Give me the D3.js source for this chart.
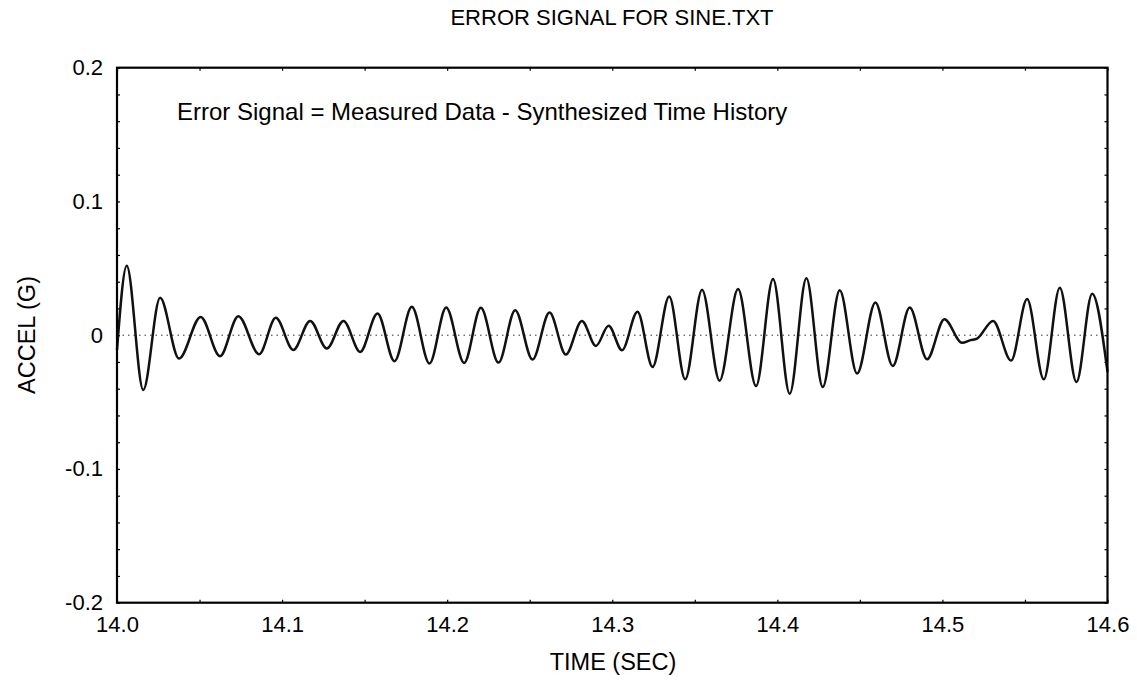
<!DOCTYPE html>
<html>
<head>
<meta charset="utf-8">
<script src="https://cdn.jsdelivr.net/npm/d3@7"></script>
<style>
  body { margin: 0; background: #fff; }
  svg { display: block; font-family: "Liberation Sans", Arial, sans-serif; }
</style>
</head>
<body>
<div id="chart"></div>
<script>
// peaks and troughs
const timeSec = [14.0, 14.0059, 14.0159, 14.0261, 14.0376, 14.0507, 14.0624, 14.0735, 14.0861, 14.0962,
  14.1068, 14.1170, 14.1271, 14.1372, 14.1473, 14.1578, 14.1681, 14.1786, 14.1893, 14.1994,
  14.2103, 14.2204, 14.2311, 14.2412, 14.2517, 14.2620, 14.2719, 14.2816, 14.2901, 14.2978,
  14.3059, 14.3153, 14.3244, 14.3345, 14.3442, 14.3544, 14.3650, 14.3762, 14.3871, 14.3974,
  14.4075, 14.4176, 14.4275, 14.4378, 14.4483, 14.4594, 14.4699, 14.4802, 14.4907, 14.5012,
  14.5119, 14.5170, 14.5210, 14.5307, 14.5416, 14.5513, 14.5614, 14.5711, 14.5812, 14.5907, 14.6];
const accelG = [-0.011, 0.052, -0.041, 0.028, -0.0175, 0.0137, -0.0157, 0.0142, -0.0142, 0.013,
  -0.011, 0.0107, -0.010, 0.0107, -0.0125, 0.0162, -0.0195, 0.0212, -0.0212, 0.0207,
  -0.0207, 0.0205, -0.0205, 0.0187, -0.0182, 0.017, -0.0145, 0.0107, -0.008, 0.007,
  -0.0112, 0.0175, -0.0237, 0.029, -0.033, 0.034, -0.034, 0.0345, -0.038, 0.042,
  -0.0437, 0.0425, -0.0387, 0.0337, -0.0287, 0.0245, -0.023, 0.0207, -0.018, 0.012,
  -0.0057, -0.0037, -0.0025, 0.0107, -0.019, 0.027, -0.033, 0.0355, -0.035, 0.031, -0.0275];

const xTicks = [14.0, 14.1, 14.2, 14.3, 14.4, 14.5, 14.6];
const xTickLabels = ["14.0", "14.1", "14.2", "14.3", "14.4", "14.5", "14.6"];
const yTicks = [-0.2, -0.1, 0, 0.1, 0.2];
const yTickLabels = ["-0.2", "-0.1", "0", "0.1", "0.2"];
const xMinor = d3.range(0, 13).map(i => 14 + i * 0.05);
const yMinor = d3.range(0, 21).map(i => -0.2 + i * 0.02);

const width = 1137, height = 690;
const plotL = 117, plotR = 1107.5, plotT = 67.7, plotB = 602.7;

const svg = d3.select("#chart").append("svg")
  .attr("width", width)
  .attr("height", height);

const x = d3.scaleLinear().domain([14, 14.6]).range([plotL, plotR]);
const y = d3.scaleLinear().domain([-0.2, 0.2]).range([plotB, plotT]);

// zero reference line
svg.append("line")
  .attr("x1", plotL).attr("x2", plotR)
  .attr("y1", y(0)).attr("y2", y(0))
  .attr("stroke", "#333").attr("stroke-width", 1)
  .attr("stroke-dasharray", "1.5,4");

// minor ticks, pointing inward on all four sides
function minor(g) { g.select(".domain").remove(); g.selectAll("line").attr("stroke", "#000").attr("stroke-width", 1.2); }
svg.append("g").attr("transform", `translate(0,${plotB})`)
  .call(d3.axisBottom(x).tickValues(xMinor).tickSize(-3).tickFormat("")).call(minor);
svg.append("g").attr("transform", `translate(0,${plotT})`)
  .call(d3.axisTop(x).tickValues(xMinor).tickSize(-3).tickFormat("")).call(minor);
svg.append("g").attr("transform", `translate(${plotL},0)`)
  .call(d3.axisLeft(y).tickValues(yMinor).tickSize(-3).tickFormat("")).call(minor);
svg.append("g").attr("transform", `translate(${plotR},0)`)
  .call(d3.axisRight(y).tickValues(yMinor).tickSize(-3).tickFormat("")).call(minor);

// tick labels
const xAxis = svg.append("g").attr("transform", `translate(0,${plotB})`)
  .call(d3.axisBottom(x).tickValues(xTicks).tickSize(0).tickPadding(14)
    .tickFormat((d, i) => xTickLabels[i]));
const yAxis = svg.append("g").attr("transform", `translate(${plotL},0)`)
  .call(d3.axisLeft(y).tickValues(yTicks).tickSize(0).tickPadding(14)
    .tickFormat((d, i) => yTickLabels[i]));
[xAxis, yAxis].forEach(g => {
  g.select(".domain").remove();
  g.selectAll("text").attr("font-size", 22).attr("fill", "#000")
    .attr("font-family", "Liberation Sans, Arial, sans-serif");
});

// the signal
const line = d3.line()
  .x((d, i) => x(timeSec[i]))
  .y(d => y(d))
  .curve(d3.curveMonotoneX);
svg.append("path")
  .datum(accelG)
  .attr("d", line)
  .attr("fill", "none")
  .attr("stroke", "#111")
  .attr("stroke-width", 2.5);

// frame
svg.append("rect")
  .attr("x", plotL).attr("y", plotT)
  .attr("width", plotR - plotL).attr("height", plotB - plotT)
  .attr("fill", "none").attr("stroke", "#000").attr("stroke-width", 2.2);

// texts
svg.append("text").attr("x", 612).attr("y", 25).attr("text-anchor", "middle")
  .attr("font-size", 22).text("ERROR SIGNAL FOR SINE.TXT");
svg.append("text").attr("x", 177).attr("y", 120)
  .attr("font-size", 24).text("Error Signal = Measured Data - Synthesized Time History");
svg.append("text").attr("x", 613).attr("y", 670).attr("text-anchor", "middle")
  .attr("font-size", 23.5).text("TIME (SEC)");
svg.append("text").attr("transform", "translate(35,335) rotate(-90)").attr("text-anchor", "middle")
  .attr("font-size", 23.5).text("ACCEL (G)");
</script>
</body>
</html>
